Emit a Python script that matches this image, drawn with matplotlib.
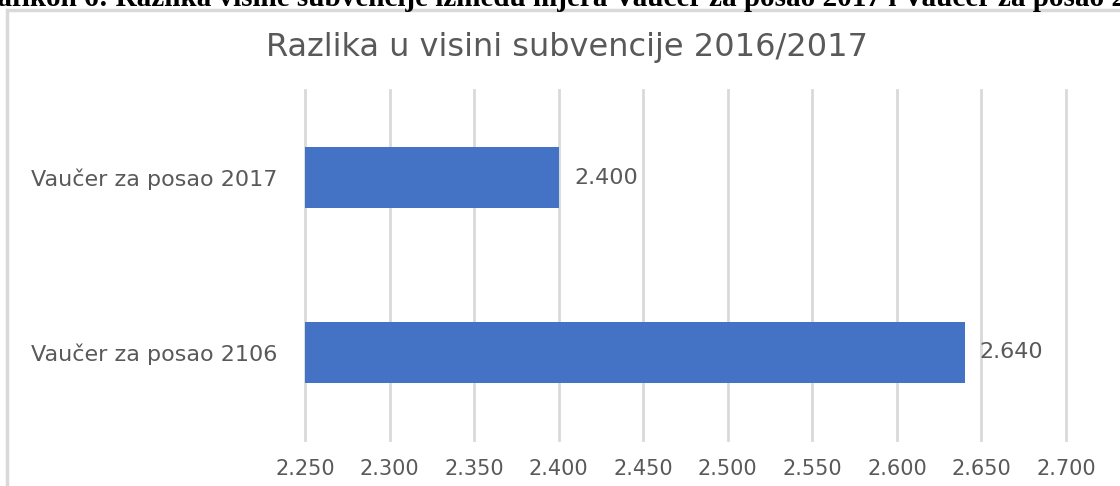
import matplotlib
matplotlib.use("Agg")
import matplotlib.pyplot as plt
from matplotlib.patches import Rectangle
from matplotlib.ticker import FuncFormatter

categories = ["Vaučer za posao 2106", "Vaučer za posao 2017"]
values = [2640, 2400]
x_ticks = [2250, 2300, 2350, 2400, 2450, 2500, 2550, 2600, 2650, 2700]
title = "Razlika u visini subvencije 2016/2017"
caption = "Grafikon 6: Razlika visine subvencije između mjera Vaučer za posao 2017 i Vaučer za posao 2016"

W, H = 1120, 486
fig = plt.figure(figsize=(W / 100, H / 100), dpi=100)
fig.patch.set_facecolor("white")

def fmt(v, pos=None):
    return f"{int(round(v)):,}".replace(",", ".")

font = "DejaVu Sans"
txt_color = "#595959"

# outer chart frame
fig.add_artist(Rectangle((7 / W, -0.1), 1.2, 1.1 - 10 / H, transform=fig.transFigure,
                         fill=False, edgecolor="#d9d9d9", linewidth=2.5))

# caption clipped at top (as in the reference)
fig.text(-38 / W, 1 - 6 / H, caption, fontsize=21, fontweight="bold",
         family="Liberation Serif", color="black", ha="left", va="baseline")

ax = fig.add_axes([305 / W, 1 - 440 / H, (1066 - 305) / W, 350 / H])
ypos = list(range(len(categories)))
bars = ax.barh(ypos, values, height=0.345, color="#4472c4", zorder=3)
ax.set_xlim(x_ticks[0], x_ticks[-1])
ax.set_ylim(-0.5, len(categories) - 0.5)
ax.set_xticks(x_ticks)
ax.xaxis.set_major_formatter(FuncFormatter(fmt))
ax.set_yticks(ypos)
ax.set_yticklabels(categories)
ax.grid(axis="x", color="#d9d9d9", linewidth=2)
ax.set_axisbelow(True)
for gl in ax.get_xgridlines():
    gl.set_clip_on(False)
for s in ax.spines.values():
    s.set_visible(False)
ax.tick_params(axis="both", length=0, labelcolor=txt_color)
ax.tick_params(axis="x", pad=14, labelsize=15)
ax.tick_params(axis="y", pad=20, labelsize=16)
for lbl in ax.get_xticklabels() + ax.get_yticklabels():
    lbl.set_family(font)

for b, v in zip(bars, values):
    ax.text(v + 9, b.get_y() + b.get_height() / 2, fmt(v), va="center", ha="left",
            fontsize=16, color=txt_color, family=font)

fig.text(567 / W, 1 - 47 / H, title, ha="center", va="center", fontsize=23,
         color=txt_color, family=font)

fig.savefig("out.png", dpi=100, facecolor="white")
